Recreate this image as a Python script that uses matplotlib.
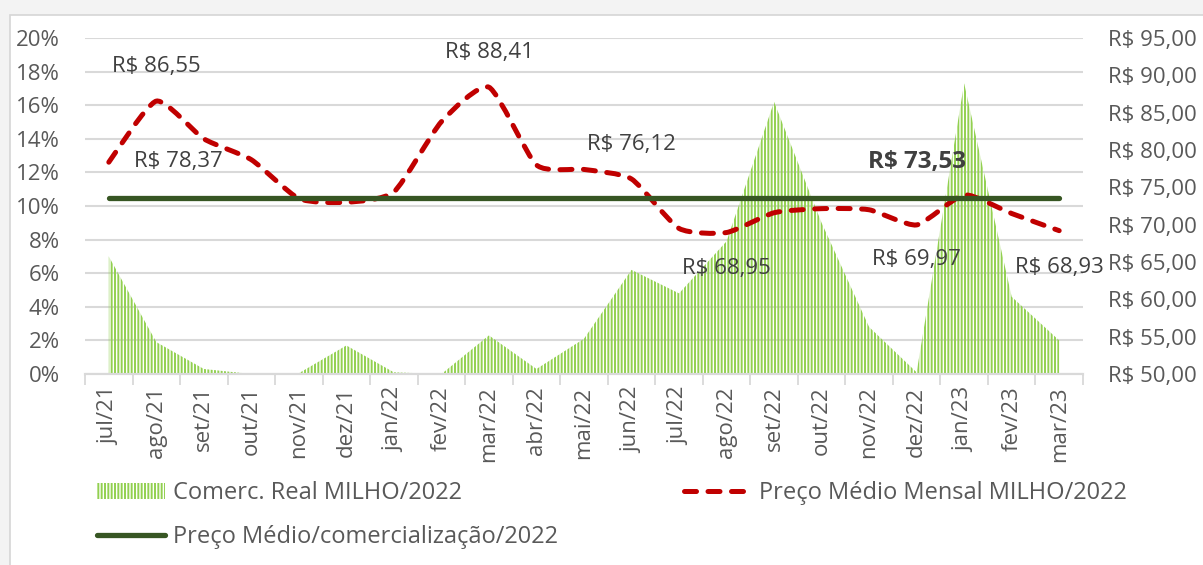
import numpy as np
import matplotlib
matplotlib.use("Agg")
import matplotlib.pyplot as plt
from matplotlib.path import Path
from matplotlib.patches import PathPatch, Patch, Rectangle
from matplotlib.lines import Line2D

plt.rcParams['font.family'] = ['Open Sans', 'DejaVu Sans']
plt.rcParams['hatch.linewidth'] = 1.4

# data
months = ["jul/21", "ago/21", "set/21", "out/21", "nov/21", "dez/21", "jan/22",
          "fev/22", "mar/22", "abr/22", "mai/22", "jun/22", "jul/22", "ago/22",
          "set/22", "out/22", "nov/22", "dez/22", "jan/23", "fev/23", "mar/23"]
comerc_real = [7.0, 1.9, 0.3, 0.0, 0.05, 1.7, 0.1, 0.0, 2.3, 0.3, 2.1, 6.2, 4.8,
               7.9, 16.2, 9.0, 2.8, 0.1, 17.3, 4.6, 2.0]
preco_mensal = [78.37, 86.55, 81.5, 78.7, 73.5, 73.0, 74.4, 83.8, 88.41, 78.0,
                77.4, 76.12, 69.5, 68.95, 71.6, 72.15, 72.0, 69.97, 74.0, 71.5, 69.2]
preco_medio = 73.53

# data labels: (text, category position, price position, bold)
labels = [("R$ 86,55", 1.0, 91.2, False),
          ("R$ 78,37", 1.47, 78.4, False),
          ("R$ 88,41", 8.0, 93.1, False),
          ("R$ 76,12", 11.0, 80.8, False),
          ("R$ 68,95", 13.0, 64.2, False),
          ("R$ 69,97", 17.0, 65.3, False),
          ("R$ 68,93", 20.0, 64.3, False),
          ("R$ 73,53", 17.0, 78.4, True)]

x = np.arange(len(months))
text_color = "#595959"

fig = plt.figure(figsize=(12.03, 5.65), dpi=100)
fig.patch.set_facecolor("#F3F3F3")
fig.add_artist(Rectangle((0.008, -0.02), 1.0, 0.993, transform=fig.transFigure,
                         facecolor="white", edgecolor="#D6D6D6", linewidth=1.2,
                         zorder=-5))

ax1 = fig.add_axes([0.0707, 0.338, 0.8295, 0.5947])
ax1.set_facecolor("none")
ax2 = ax1.twinx()

# area with vertical line pattern
ax1.fill_between(x, comerc_real, 0, facecolor="none", edgecolor="#92D050",
                 hatch="|||||", linewidth=0)
ax1.set_ylim(0, 20)
ax1.set_yticks(np.arange(0, 21, 2))
ax1.set_yticklabels([f"{v}%" for v in range(0, 21, 2)])
ax1.set_xlim(-0.5, len(months) - 0.5)
ax1.set_xticks(x)
ax1.set_xticklabels(months, rotation=90)
ax1.set_xticks(np.arange(-0.5, len(months)), minor=True)
ax1.grid(axis="y", color="#D9D9D9", linewidth=1.5)
ax1.set_axisbelow(True)
ax1.tick_params(axis="y", length=0, pad=18, labelsize=16, labelcolor=text_color)
ax1.tick_params(axis="x", which="major", length=0, pad=9, labelsize=16,
                labelcolor=text_color)
ax1.tick_params(axis="x", which="minor", length=8, width=1.3, color="#D9D9D9")

# smoothed monthly price line (light smoothing like the spreadsheet)
pts = np.column_stack([x, preco_mensal]).astype(float)
verts = [pts[0]]
codes = [Path.MOVETO]
n = len(pts)
k = 10
for i in range(n - 1):
    p0 = pts[max(i - 1, 0)]
    p1 = pts[i]
    p2 = pts[i + 1]
    p3 = pts[min(i + 2, n - 1)]
    verts += [p1 + (p2 - p0) / k, p2 - (p3 - p1) / k, p2]
    codes += [Path.CURVE4] * 3
ax2.add_patch(PathPatch(Path(verts, codes), fill=False, edgecolor="#C00000",
                        linewidth=3.6, linestyle=(0, (2.4, 2.3)), capstyle="round"))

ax2.plot([x[0], x[-1]], [preco_medio, preco_medio], color="#375623",
         linewidth=3.8, solid_capstyle="round")

for txt, cx, cy, bold in labels:
    ax2.text(cx, cy, txt, ha="center", va="center",
             fontsize=17.5 if bold else 16,
             color="#404040", fontweight="bold" if bold else "normal")

ax2.set_ylim(50, 95)
ax2.set_yticks(np.arange(50, 96, 5))
ax2.set_yticklabels([f"R$ {v},00" for v in range(50, 96, 5)])
ax2.tick_params(axis="y", length=0, pad=18, labelsize=16, labelcolor=text_color)

for ax in (ax1, ax2):
    for side in ("top", "left", "right"):
        ax.spines[side].set_visible(False)
    ax.spines["bottom"].set_color("#D9D9D9")
    ax.spines["bottom"].set_linewidth(1.5)

handles = [Patch(facecolor="white", edgecolor="#92D050", hatch="|||||", linewidth=0),
           Line2D([], [], color="#375623", linewidth=3.8, solid_capstyle="round"),
           Line2D([], [], color="#C00000", linewidth=3.6, linestyle=(0, (2.4, 2.3)),
                  dash_capstyle="round")]
names = ["Comerc. Real MILHO/2022", "Preço Médio/comercialização/2022",
         "Preço Médio Mensal MILHO/2022"]
leg = fig.legend(handles, names, loc="upper left", bbox_to_anchor=(0.0806, 0.148),
                 ncol=2, frameon=False, fontsize=17, handlelength=2.9,
                 handletextpad=0.3, columnspacing=5.35, labelspacing=0.85,
                 borderaxespad=0, borderpad=0)
for t in leg.get_texts():
    t.set_color(text_color)

fig.savefig("out.png", dpi=100)
